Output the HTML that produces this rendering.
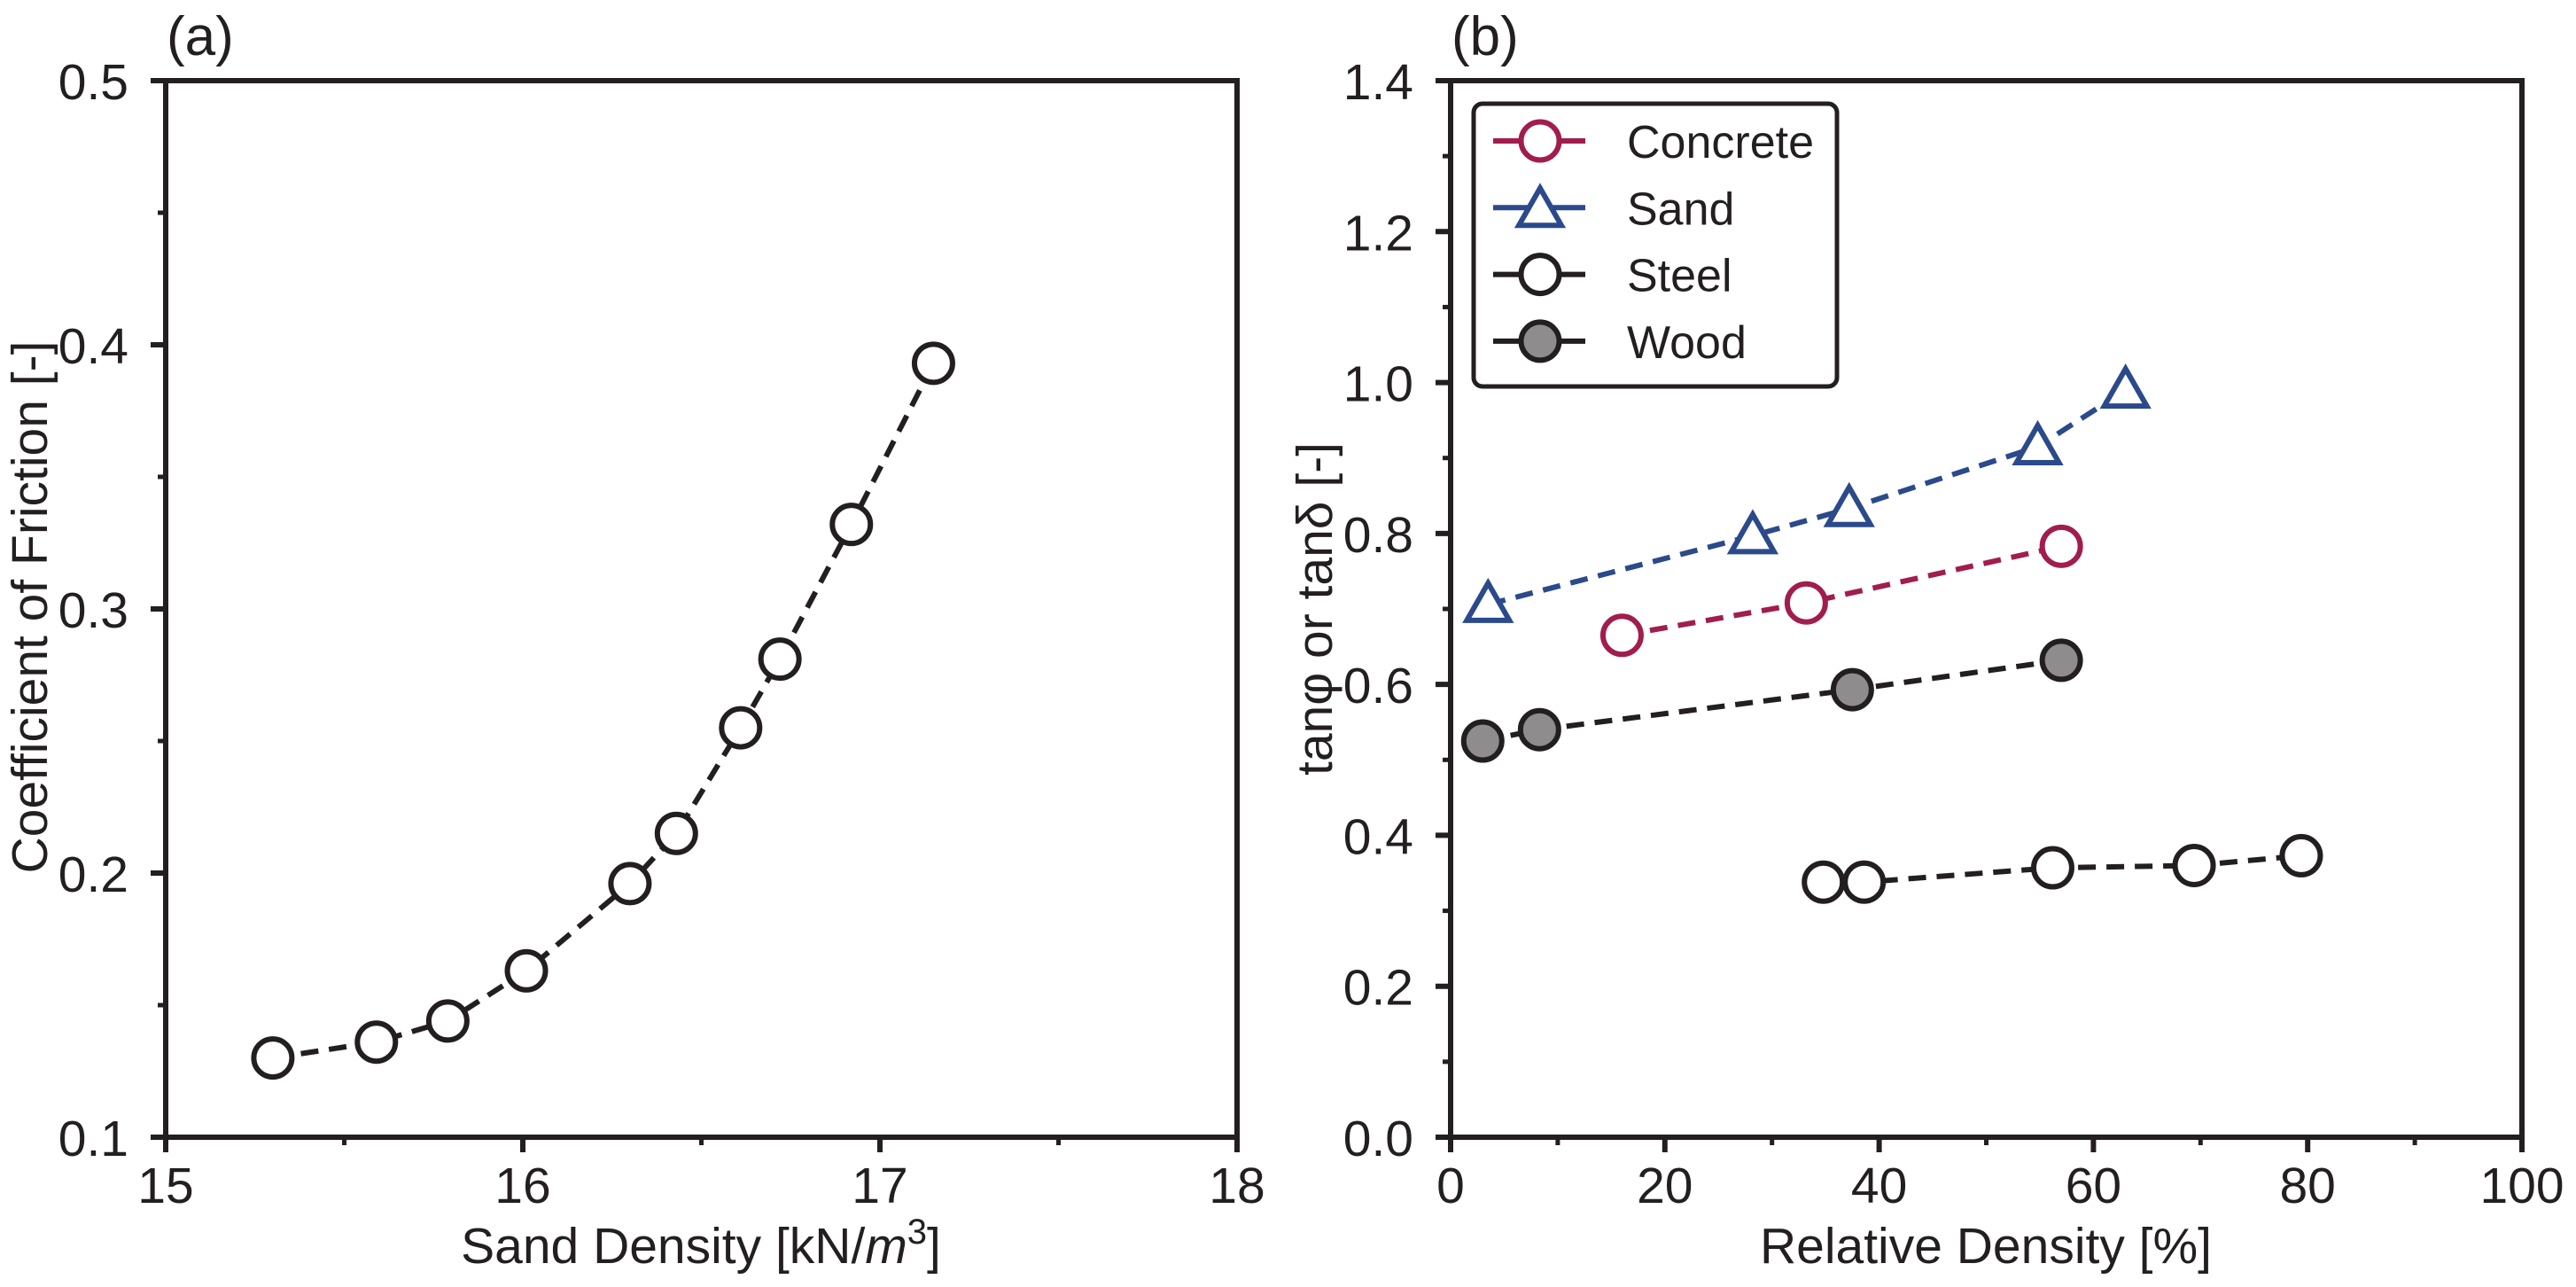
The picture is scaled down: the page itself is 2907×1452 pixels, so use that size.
<!DOCTYPE html>
<html><head><meta charset="utf-8"><style>
html,body{margin:0;padding:0;background:#fff;}
svg{display:block;font-family:"Liberation Sans",Arial,sans-serif;}
</style></head><body>
<svg id="fig" width="2907" height="1452" viewBox="0 0 2907 1452" xmlns="http://www.w3.org/2000/svg">
<g id="pa"></g>
<g id="pb"></g>
</svg>
<script>
// Panel (a) data
const aDensity = [15.30, 15.59, 15.79, 16.01, 16.30, 16.43, 16.61, 16.72, 16.92, 17.15];
const aFriction = [0.130, 0.136, 0.144, 0.163, 0.196, 0.215, 0.255, 0.281, 0.332, 0.393];
const aXTicks = ["15", "16", "17", "18"];
const aYTicks = ["0.1", "0.2", "0.3", "0.4", "0.5"];
// Panel (b) data
const concreteDr = [16, 33.2, 57];
const concreteTan = [0.665, 0.708, 0.783];
const sandDr = [3.5, 28.2, 37.2, 54.8, 63];
const sandTan = [0.706, 0.797, 0.833, 0.915, 0.99];
const steelDr = [34.8, 38.6, 56.2, 69.4, 79.4];
const steelTan = [0.338, 0.338, 0.357, 0.36, 0.373];
const woodDr = [3, 8.3, 37.5, 57];
const woodTan = [0.525, 0.54, 0.593, 0.632];
const bXTicks = ["0", "20", "40", "60", "80", "100"];
const bYTicks = ["0.0", "0.2", "0.4", "0.6", "0.8", "1.0", "1.2", "1.4"];
const legendLabels = ["Concrete", "Sand", "Steel", "Wood"];

const NS = "http://www.w3.org/2000/svg";
const INK = "#231f20";
const FS = 57;
function mk(parent, tag, attrs, text) {
  const e = document.createElementNS(NS, tag);
  for (const k in attrs) e.setAttribute(k, attrs[k]);
  if (text !== undefined) e.textContent = text;
  parent.appendChild(e);
  return e;
}

function axes(g, x0, x1, y0, y1, xmin, xmax, ymin, ymax, xt, yt, xminor, yminor) {
  const sx = v => x0 + (v - xmin) / (xmax - xmin) * (x1 - x0);
  const sy = v => y1 - (v - ymin) / (ymax - ymin) * (y1 - y0);
  for (let i = 0; i < xt.length; i++) {
    const v = parseFloat(xt[i]);
    const t = mk(g, "line", {x1: sx(v), x2: sx(v), y1: y1, y2: y1 + 17, stroke: INK, "stroke-width": 6});
    
    
    const l = mk(g, "text", {x: sx(v), y: 1357, "font-size": FS, "text-anchor": "middle", fill: INK}, xt[i]);
    
    
  }
  for (let v = xmin + xminor; v < xmax; v += xminor) {
    const t = mk(g, "line", {x1: sx(v), x2: sx(v), y1: y1, y2: y1 + 9, stroke: INK, "stroke-width": 5});
    
    
  }
  for (let i = 0; i < yt.length; i++) {
    const v = parseFloat(yt[i]);
    const t = mk(g, "line", {x1: x0 - 17, x2: x0, y1: sy(v), y2: sy(v), stroke: INK, "stroke-width": 6});
    
    
    const l = mk(g, "text", {x: x0 - 42, y: sy(v) + 21, "font-size": FS, "text-anchor": "end", fill: INK}, yt[i]);
    
    
  }
  for (let v = ymin + yminor; v < ymax - 1e-9; v += yminor) {
    const t = mk(g, "line", {x1: x0 - 9, x2: x0, y1: sy(v), y2: sy(v), stroke: INK, "stroke-width": 5});
    
    
  }
  const f = mk(g, "rect", {x: x0, y: y0, width: x1 - x0, height: y1 - y0, fill: "none", stroke: INK, "stroke-width": 6});
  
  
  return {sx, sy};
}

function series(g, sx, sy, xs, ys, color, fill, marker, name) {
  const pts = xs.map((x, i) => sx(x) + "," + sy(ys[i])).join(" ");
  const pl = mk(g, "polyline", {points: pts, fill: "none", stroke: color, "stroke-width": 6, "stroke-dasharray": "20 12"});
  
  
  for (let i = 0; i < xs.length; i++) drawMarker(g, sx(xs[i]), sy(ys[i]), color, fill, marker, name + '-point');
}
function drawMarker(g, cx, cy, color, fill, marker, name) {
  let m;
  if (marker === "tri") {
    m = mk(g, "polygon", {points: `${cx},${cy - 24} ${cx - 24},${cy + 18} ${cx + 24},${cy + 18}`, fill: fill, stroke: color, "stroke-width": 6, "stroke-linejoin": "miter"});
  } else {
    m = mk(g, "circle", {cx: cx, cy: cy, r: 21.5, fill: fill, stroke: color, "stroke-width": 6});
  }
  
  
}

// Panel a
const ga = document.getElementById("pa");
const A = axes(ga, 187, 1396, 91, 1283, 15, 18, 0.1, 0.5, aXTicks, aYTicks, 0.5, 0.05);
series(ga, A.sx, A.sy, aDensity, aFriction, INK, "#fff", "circ", "friction");
let t = mk(ga, "text", {x: 791, y: 1425, "font-size": FS, "text-anchor": "middle", fill: INK});
t.innerHTML = 'Sand Density [kN/<tspan font-style="italic">m</tspan><tspan dy="-22" font-size="40">3</tspan><tspan dy="22">]</tspan>';


t = mk(ga, "text", {x: 0, y: 0, "font-size": FS, "text-anchor": "middle", fill: INK, transform: "translate(53,685) rotate(-90)"}, "Coefficient of Friction [-]");


t = mk(ga, "text", {x: 188, y: 62, "font-size": 62, fill: INK}, "(a)");



// Panel b
const gb = document.getElementById("pb");
const B = axes(gb, 1637, 2846, 91, 1283, 0, 100, 0, 1.4, bXTicks, bYTicks, 10, 0.1);
series(gb, B.sx, B.sy, steelDr, steelTan, INK, "#fff", "circ", "steel");
series(gb, B.sx, B.sy, woodDr, woodTan, INK, "#8e8c8c", "circ", "wood");
series(gb, B.sx, B.sy, concreteDr, concreteTan, "#a11d4e", "#fff", "circ", "concrete");
series(gb, B.sx, B.sy, sandDr, sandTan, "#2b4a8b", "#fff", "tri", "sand");
t = mk(gb, "text", {x: 2241, y: 1425, "font-size": FS, "text-anchor": "middle", fill: INK}, "Relative Density [%]");


t = mk(gb, "text", {x: 0, y: 0, "font-size": FS, "text-anchor": "middle", fill: INK, transform: "translate(1503,687) rotate(-90)"}, "tanφ or tanδ [-]");


t = mk(gb, "text", {x: 1638, y: 62, "font-size": 62, fill: INK}, "(b)");



// Legend
const lg = mk(gb, "g", {});


const lb = mk(lg, "rect", {x: 1663, y: 117, width: 410, height: 319, rx: 10, fill: "#fff", stroke: INK, "stroke-width": 5});


const lColors = ["#a11d4e", "#2b4a8b", INK, INK];
const lFills = ["#fff", "#fff", "#fff", "#8e8c8c"];
const lMarkers = ["circ", "tri", "circ", "circ"];
for (let i = 0; i < legendLabels.length; i++) {
  const cy = 159 + i * 75.3;
  const ln = mk(lg, "line", {x1: 1685, x2: 1789, y1: cy, y2: cy, stroke: lColors[i], "stroke-width": 6});
  
  
  drawMarker(lg, 1738, cy + (lMarkers[i] === "tri" ? 2 : 0), lColors[i], lFills[i], lMarkers[i], 'legend-marker');
  const tx = mk(lg, "text", {x: 1836, y: cy + 19, "font-size": 52, fill: INK}, legendLabels[i]);
  
  
}
</script>
</body></html>
